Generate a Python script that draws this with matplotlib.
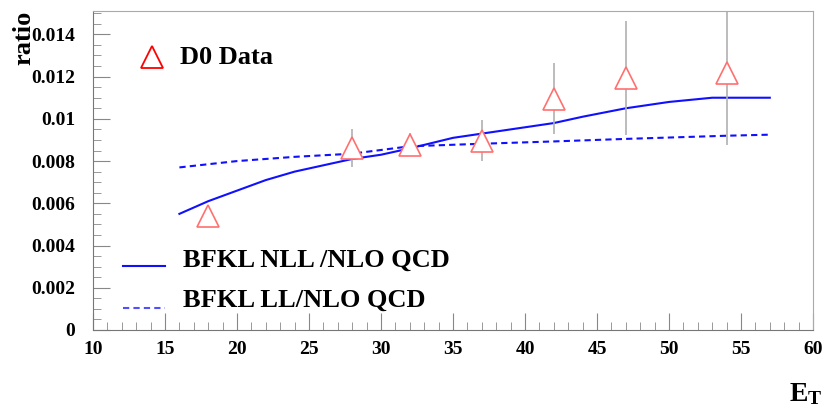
import matplotlib.pyplot as plt
from matplotlib.ticker import MultipleLocator
from matplotlib.lines import Line2D

plt.rcParams['font.family'] = ['Liberation Serif', 'DejaVu Serif']
plt.rcParams['font.weight'] = 'bold'
plt.rcParams['mathtext.fontset'] = 'custom'
plt.rcParams['mathtext.rm'] = 'Liberation Serif:bold'
plt.rcParams['mathtext.bf'] = 'Liberation Serif:bold'

# D0 data points
et_data = [18, 28, 32, 37, 42, 47, 54]
ratio_data = [0.00542, 0.00863, 0.00877, 0.00896, 0.01096, 0.01195, 0.01218]
ratio_err = [0.0002, 0.0009, 0.00055, 0.00097, 0.00167, 0.0027, 0.0034]

# BFKL NLL / NLO QCD
et_nll = [16, 18, 20, 22, 24, 26, 28, 30, 32, 35, 37, 40, 42, 44, 47, 50, 53, 57]
ratio_nll = [0.0055, 0.0061, 0.0066, 0.0071, 0.0075, 0.0078, 0.0081, 0.0083,
             0.0086, 0.0091, 0.0093, 0.0096, 0.0098, 0.0101, 0.0105, 0.0108,
             0.0110, 0.0110]

# BFKL LL / NLO QCD
et_ll = [16, 20, 24, 28, 32, 37, 42, 47, 54, 57]
ratio_ll = [0.0077, 0.0080, 0.0082, 0.00835, 0.0087, 0.00882, 0.00893, 0.00905,
            0.0092, 0.00925]

fig = plt.figure(figsize=(8.29, 4.13), dpi=100)
ax = fig.add_axes([0.1122, 0.201, 0.8685, 0.772])

ax.plot(et_nll, ratio_nll, color='#1010ff', lw=1.5)
ax.plot(et_ll, ratio_ll, color='#1010ff', lw=1.5, ls=(0, (3, 2)))
ax.errorbar(et_data, ratio_data, yerr=ratio_err, fmt='none', ecolor='#b0b0b0',
            elinewidth=1.2, capsize=0)
ax.plot(et_data, ratio_data, ls='none', marker='^', ms=16, mfc='white',
        mec='#ff7070', mew=1.2)

ax.set_xlim(10, 60)
ax.set_ylim(0, 0.0151)
ax.xaxis.set_major_locator(MultipleLocator(5))
ax.xaxis.set_minor_locator(MultipleLocator(1))
ax.yaxis.set_major_locator(MultipleLocator(0.002))
ax.yaxis.set_minor_locator(MultipleLocator(0.0005))
ax.yaxis.set_major_formatter(plt.FuncFormatter(lambda v, p: '0' if v == 0 else ('%g' % round(v, 4))))
ax.tick_params(which='major', direction='in', length=12, color='#888888',
               labelsize=14)
ax.tick_params(axis='y', which='major', pad=13)
ax.tick_params(axis='x', which='major', pad=8)
ax.tick_params(which='minor', direction='in', length=6, color='#888888')
for s in ax.spines.values():
    s.set_color('#aaaaaa')
ax.spines['left'].set_color('#777777')
ax.spines['bottom'].set_color('#777777')

for lab in ax.get_xticklabels() + ax.get_yticklabels():
    lab.set_fontweight('bold')

fig.text(0.015, 0.975, 'ratio', rotation=90, ha='left', va='top', fontsize=19,
         fontweight='bold')
fig.text(0.972, 0.015, r'$\mathbf{E_T}$', ha='center', va='bottom', fontsize=20)

# legends
ax.plot([0.082], [0.856], transform=ax.transAxes, marker='^', ms=16,
        mfc='white', mec='red', mew=1.3, clip_on=False)
ax.text(0.121, 0.856, 'D0 Data', transform=ax.transAxes, va='center',
        fontsize=19, fontweight='bold')
ax.add_line(Line2D([0.042, 0.1], [0.201, 0.201], transform=ax.transAxes,
                   color='#1010ff', lw=1.5))
ax.add_line(Line2D([0.042, 0.1], [0.069, 0.069], transform=ax.transAxes,
                   color='#5050ff', lw=1.5, ls=(0, (3, 2))))
ax.text(0.125, 0.22, 'BFKL NLL /NLO QCD', transform=ax.transAxes,
        va='center', fontsize=19, fontweight='bold')
ax.text(0.125, 0.094, 'BFKL LL/NLO QCD', transform=ax.transAxes,
        va='center', fontsize=19, fontweight='bold')

fig.savefig('out.png', dpi=100)
